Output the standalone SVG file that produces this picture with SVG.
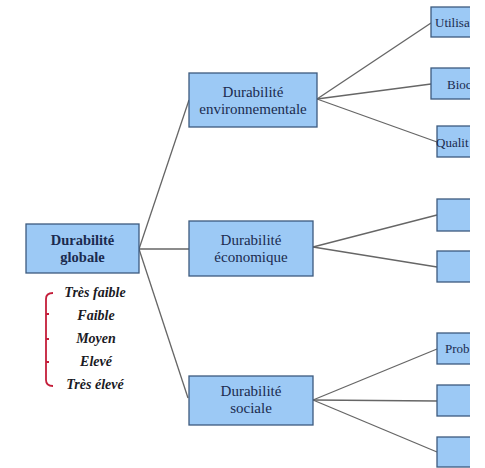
<svg xmlns="http://www.w3.org/2000/svg" width="485" height="468" viewBox="0 0 485 468">
<style>
.box{fill:#9cc9f5;stroke:#3d5a7e;stroke-width:1.3}
.t{font-family:"Liberation Serif","Times New Roman",serif;font-size:15px;fill:#1b2b4f;text-anchor:middle}
.tb{font-weight:bold;font-size:14.5px}
.ts{font-family:"Liberation Serif","Times New Roman",serif;font-size:13px;fill:#1b2b4f}
.lbl{font-family:"Liberation Serif","Times New Roman",serif;font-size:14px;font-style:italic;font-weight:bold;fill:#1a1a24;text-anchor:middle}
.c{stroke:#666;stroke-width:1.3;fill:none}
.br{stroke:#c41e3a;stroke-width:1.8;fill:none}
</style>
<defs>
<clipPath id="clip"><rect x="0" y="0" width="470" height="468"/></clipPath>
</defs>
<rect width="485" height="468" fill="#fff"/>
<g id="connectors">
<line class="c" x1="139" y1="249" x2="189" y2="100"/>
<line class="c" x1="139" y1="249" x2="189" y2="249"/>
<line class="c" x1="139" y1="249" x2="188" y2="398"/>
<line class="c" x1="317" y1="99" x2="431" y2="23"/>
<line class="c" x1="317" y1="99" x2="431" y2="84"/>
<line class="c" x1="317" y1="99" x2="437" y2="142"/>
<line class="c" x1="313" y1="247" x2="437" y2="215"/>
<line class="c" x1="313" y1="247" x2="437" y2="267"/>
<line class="c" x1="313" y1="400" x2="437" y2="349"/>
<line class="c" x1="313" y1="400" x2="437" y2="401"/>
<line class="c" x1="313" y1="400" x2="437" y2="452"/>
</g>
<g id="global">
<rect class="box" x="26" y="224" width="113" height="49"/>
<text class="t tb" x="82.5" y="245">Durabilité</text>
<text class="t tb" x="82.5" y="262">globale</text>
</g>
<g id="env">
<rect class="box" x="189" y="73" width="128" height="54"/>
<text class="t" x="253" y="97">Durabilité</text>
<text class="t" x="253" y="114">environnementale</text>
</g>
<g id="eco">
<rect class="box" x="189" y="221" width="124" height="55"/>
<text class="t" x="251" y="245">Durabilité</text>
<text class="t" x="251" y="262">économique</text>
</g>
<g id="soc">
<rect class="box" x="189" y="376" width="124" height="49"/>
<text class="t" x="251" y="396">Durabilité</text>
<text class="t" x="251" y="413">sociale</text>
</g>
<g clip-path="url(#clip)">
<g id="r1"><rect class="box" x="431" y="7" width="60" height="30"/><text class="ts" x="435" y="27">Utilisa</text></g>
<g id="r2"><rect class="box" x="431" y="68" width="60" height="31"/><text class="ts" x="447" y="89">Bioc</text></g>
<g id="r3"><rect class="box" x="437" y="126" width="60" height="31"/><text class="ts" x="436" y="147">Qualit</text></g>
<g id="r4"><rect class="box" x="437" y="199" width="60" height="32"/></g>
<g id="r5"><rect class="box" x="437" y="251" width="60" height="31"/></g>
<g id="r6"><rect class="box" x="437" y="333" width="60" height="31"/><text class="ts" x="445" y="353">Prob</text></g>
<g id="r7"><rect class="box" x="437" y="385" width="60" height="31"/></g>
<g id="r8"><rect class="box" x="437" y="437" width="60" height="30"/></g>
</g>
<g id="scale">
<path class="br" d="M53,293 Q46,293 46,299 L46,380 Q46,386 53,386"/>
<path class="br" d="M46,314 h3 M46,339 h3 M46,362 h3"/>
<text class="lbl" x="95" y="297">Très faible</text>
<text class="lbl" x="96" y="320">Faible</text>
<text class="lbl" x="96" y="343">Moyen</text>
<text class="lbl" x="96" y="366">Elevé</text>
<text class="lbl" x="95" y="389">Très élevé</text>
</g>
</svg>
